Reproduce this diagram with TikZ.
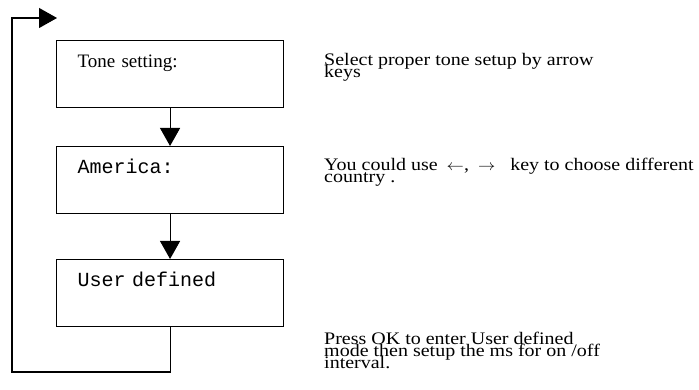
\documentclass[tikz,border=0pt]{standalone}
\usepackage{fontspec}
\setmainfont{Liberation Serif}
\setmonofont{Liberation Mono}
\usepackage{tikz}
\usetikzlibrary{positioning,calc,arrows.meta}

\newcommand{\tightlines}{\lineskiplimit=-30pt\relax}
\newcommand{\keyarrow}[1]{{\fontsize{19}{11}\selectfont$#1$}}

\tikzset{
  screen/.style={draw,line width=1.1pt,inner xsep=21pt,inner ysep=0pt,
    text width=185pt,align=left,text height=27pt,text depth=40pt},
  lcd/.style={screen,font=\fontsize{20}{22}\ttfamily},
  note/.style={anchor=base west,align=left,inner sep=0pt,yscale=0.88,transform shape,
    font=\fontsize{20}{14}\selectfont\tightlines},
  flow/.style={line width=1.1pt,-{Triangle[width=20pt,length=18pt]}}
}

\begin{document}
\begin{tikzpicture}[x=1pt,y=1pt,font=\fontsize{19}{22}\selectfont]
  \useasboundingbox (0,0) rectangle (699,390);

  % menu screens
  \node[screen,anchor=north west] (tone) at (56,350) {Tone setting:};
  \node[lcd,anchor=north west] (america) at (56,244) {America:};
  \node[lcd,anchor=north west] (user) at (56,131) {User defined};

  \draw[flow] (tone.south) -- (america.north);
  \draw[flow] (america.south) -- (user.north);

  % back to the top
  \coordinate (entry) at (57,372);
  \draw[flow] (user.south) |- (12,18) |- (entry);

  % explanations (base = last line)
  \node[note] (tonenote) at (324,312.5) {Select proper tone setup by arrow\\keys};
  \node[note] (americanote) at (324,207.5) {You could use\hspace{9pt}\keyarrow{\leftarrow},\hspace{9pt}\keyarrow{\rightarrow}\hspace{15pt}key to choose different\\country .};
  \node[note] (usernote) at (324,21) {Press OK to enter User defined\\mode then setup the ms for on /off\\interval.};
\end{tikzpicture}
\end{document}
